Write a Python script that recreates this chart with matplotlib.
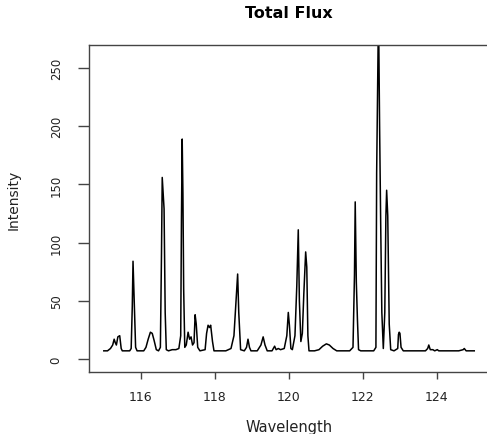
import numpy as np
from matplotlib import pyplot as plt


# spectrum vertices
wavelength = [115.00, 115.10, 115.18, 115.24, 115.28, 115.31, 115.34, 115.38, 115.43, 115.47,
              115.50, 115.70, 115.74, 115.77, 115.79, 115.81, 115.83, 115.86, 115.90, 116.08,
              116.14, 116.20, 116.26, 116.31, 116.36, 116.42, 116.48, 116.53, 116.56, 116.58,
              116.61, 116.63, 116.66, 116.69, 116.75, 116.85, 116.95, 117.03, 117.08, 117.10,
              117.12, 117.14, 117.16, 117.19, 117.23, 117.28, 117.32, 117.36, 117.40, 117.44,
              117.47, 117.50, 117.54, 117.60, 117.74, 117.78, 117.82, 117.86, 117.89, 117.94,
              117.98, 118.10, 118.30, 118.44, 118.52, 118.58, 118.62, 118.65, 118.70, 118.80,
              118.86, 118.90, 118.94, 118.98, 119.15, 119.25, 119.31, 119.36, 119.42, 119.55,
              119.62, 119.66, 119.72, 119.78, 119.88, 119.95, 119.99, 120.02, 120.06, 120.10,
              120.17, 120.22, 120.26, 120.29, 120.33, 120.37, 120.41, 120.46, 120.49, 120.52,
              120.55, 120.70, 120.82, 120.92, 121.02, 121.10, 121.20, 121.30, 121.50, 121.65,
              121.74, 121.78, 121.80, 121.83, 121.86, 121.89, 121.95, 122.10, 122.20, 122.30,
              122.36, 122.38, 122.43, 122.46, 122.49, 122.52, 122.56, 122.60, 122.63, 122.65,
              122.68, 122.72, 122.76, 122.85, 122.95, 122.97, 122.99, 123.01, 123.04, 123.10,
              123.40, 123.70, 123.76, 123.79, 123.83, 123.90, 123.95, 124.02, 124.06, 124.30,
              124.60, 124.72, 124.75, 124.80, 125.02]
intensity = [7, 7, 9, 12, 17, 14, 12, 19, 20, 9,
             7, 7, 9, 45, 84, 62, 43, 10, 7, 7,
             10, 17, 23, 22, 16, 8, 7, 10, 90, 156,
             140, 129, 40, 8, 7, 8, 8, 9, 20, 120,
             189, 142, 60, 10, 12, 23, 17, 19, 12, 14,
             38, 30, 10, 7, 8, 22, 29, 27, 29, 15,
             7, 7, 7, 9, 20, 51, 73, 40, 8, 7,
             10, 17, 10, 7, 7, 12, 19, 12, 7, 7,
             11, 8, 9, 8, 9, 20, 40, 29, 9, 8,
             20, 63, 111, 50, 15, 22, 56, 92, 79, 20,
             7, 7, 8, 11, 13, 12, 9, 7, 7, 7,
             10, 72, 135, 66, 34, 8, 7, 7, 7, 7,
             10, 160, 300, 199, 114, 40, 9, 40, 123, 145,
             123, 30, 8, 7, 9, 21, 23, 22, 10, 7,
             7, 7, 9, 12, 8, 8, 7, 8, 7, 7,
             7, 8, 9, 7, 7]

xticks = [116, 118, 120, 122, 124]
yticks = [0, 50, 100, 150, 200, 250]


def draw():
    fig = plt.figure(figsize=(4.87, 4.35), dpi=100)
    ax = fig.add_axes([0.1828, 0.1425, 0.8214, 0.7517])

    ax.plot(wavelength, intensity, color="black", linewidth=1.1)

    ax.set_xlim(114.6, 125.42)
    ax.set_ylim(-11.2, 269.8)
    ax.set_xticks(xticks)
    ax.set_yticks(yticks)
    ax.set_yticklabels([str(v) for v in yticks], rotation=90, va="center")

    for side in ["top", "bottom", "left", "right"]:
        ax.spines[side].set_color("#444444")
        ax.spines[side].set_linewidth(1.0)

    ax.tick_params(axis="x", length=5, width=1, pad=8, labelsize=9,
                   color="#444444", labelcolor="#222222")
    ax.tick_params(axis="y", length=8, width=1, pad=11, labelsize=8.5,
                   color="#444444", labelcolor="#222222")

    fig.text(289 / 487, 1 - 14 / 435, "Total Flux", ha="center", va="center",
             fontsize=11.5, fontweight="bold")
    fig.text(289 / 487, 1 - 428 / 435, "Wavelength", ha="center", va="center",
             fontsize=10.5, color="#222222")
    fig.text(14 / 487, 1 - 200 / 435, "Intensity", ha="center", va="center",
             rotation=90, fontsize=10, color="#222222")

    fig.savefig("out.png", dpi=100)


if __name__ == '__main__':
    draw()
